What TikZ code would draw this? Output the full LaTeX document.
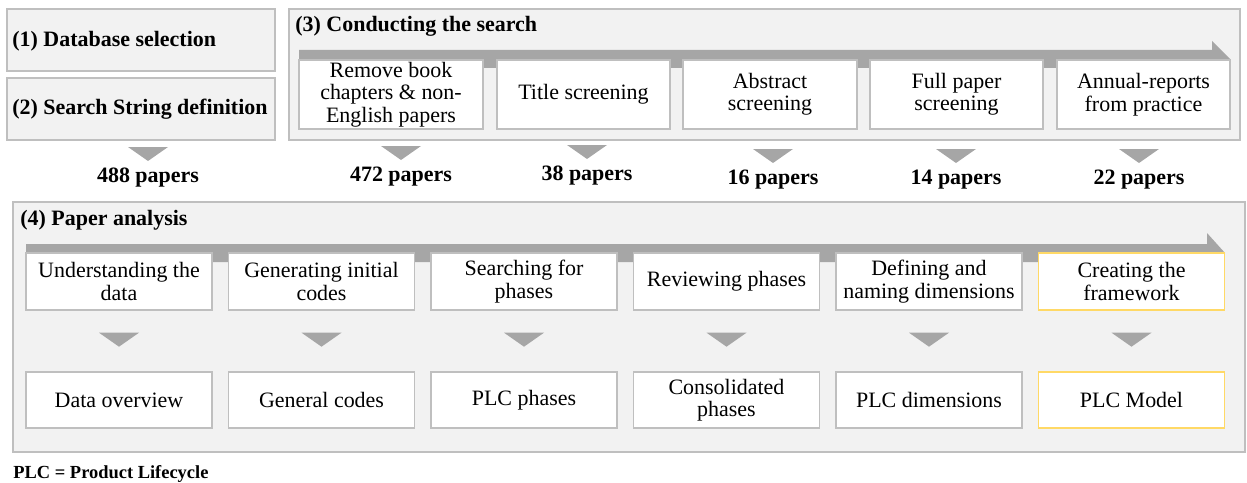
\documentclass[tikz,border=0pt]{standalone}
\usepackage{fontspec}
\setmainfont{Liberation Serif}
\usepackage{tikz}
\usetikzlibrary{positioning}

\definecolor{panelfill}{HTML}{F2F2F2}
\definecolor{panelline}{HTML}{BFBFBF}
\definecolor{arrowgray}{HTML}{A6A6A6}
\definecolor{goldline}{HTML}{FFD966}

\tikzset{
  panel/.style={draw=panelline, fill=panelfill, line width=0.8pt, inner sep=0pt},
  stepbox/.style={draw=panelline, fill=white, line width=0.8pt, align=center, inner sep=1pt,
    font=\fontsize{12.5}{12.8}\selectfont},
  goldbox/.style={stepbox, draw=goldline},
  count/.style={inner sep=0pt, font=\bfseries\fontsize{12.5}{13}\selectfont},
  title/.style={anchor=base west, inner sep=0pt, font=\bfseries\fontsize{12.5}{13}\selectfont},
}

\begin{document}
\begin{tikzpicture}[x=0.02cm, y=-0.02cm]
\useasboundingbox (0,0) rectangle (1247,483);
%% panels
\node[panel, minimum width=5.36cm, minimum height=1.24cm] (dbsel) at (141,40) {};
\node[panel, minimum width=5.36cm, minimum height=1.24cm] (sstring) at (141,109) {};
\node[panel, minimum width=19.02cm, minimum height=2.62cm] (search) at (764.5,74.5) {};
\node[panel, minimum width=24.64cm, minimum height=5cm] (analysis) at (629,327) {};
\node[title] (t1) at (12,47) {(1) Database selection};
\node[title] (t2) at (12,114) {(2) Search String definition};
\node[title] (t3) at (295,32) {(3) Conducting the search};
\node[title] (t4) at (20,225) {(4) Paper analysis};
%% process arrows
\fill[arrowgray] (299,50) -- (1212,50) -- (1212,41) -- (1230,59) -- (1212,77) -- (1212,68) -- (299,68) -- cycle;
\fill[arrowgray] (26,244) -- (1207,244) -- (1207,233) -- (1225,253) -- (1207,273) -- (1207,262) -- (26,262) -- cycle;
%% search steps
\foreach \cx/\w/\n/\txt in {391/3.68/s1/{Remove book\\chapters \& non-\\English papers},
    583.5/3.46/s2/{Title screening}, 770/3.48/s3/{Abstract\\screening},
    956.5/3.46/s4/{Full paper\\screening}, 1143.5/3.46/s5/{Annual-reports\\from practice}}
  \node[stepbox, minimum width=\w cm, minimum height=1.38cm] (\n) at (\cx,94.5) {\txt};
%% paper counts
\node[count] (c0) at (148,178) {488 papers};
\node[count] (c1) at (401,177) {472 papers};
\node[count] (c2) at (587,176) {38 papers};
\node[count] (c3) at (773,180) {16 papers};
\node[count] (c4) at (956,180) {14 papers};
\node[count] (c5) at (1139,180) {22 papers};
\foreach \c in {c0,c1,c2,c3,c4,c5}
  \fill[arrowgray] (\c.center) ++(-20,-31) -- ++(40,0) -- ++(-20,14) -- cycle;
%% analysis steps and results
\foreach \i/\top/\bot in {0/{Understanding the\\data}/{Data overview},
    1/{Generating initial\\codes}/{General codes}, 2/{Searching for\\phases}/{PLC phases},
    3/{Reviewing phases}/{Consolidated\\phases}, 4/{Defining and\\naming dimensions}/{PLC dimensions}}{
  \node[stepbox, minimum width=3.72cm, minimum height=1.14cm] (a\i) at (119+202.5*\i,281.5) {\top};
  \node[stepbox, minimum width=3.72cm, minimum height=1.12cm] (r\i) at (119+202.5*\i,400) {\bot};
}
\node[goldbox, minimum width=3.72cm, minimum height=1.14cm] (a5) at (1131.5,281.5) {Creating the\\framework};
\node[goldbox, minimum width=3.72cm, minimum height=1.12cm] (r5) at (1131.5,400) {PLC Model};
\foreach \i in {0,...,5}
  \fill[arrowgray] (a\i.south) ++(-20,22) -- ++(40,0) -- ++(-20,14) -- cycle;
\node[anchor=base west, inner sep=0pt, font=\bfseries\fontsize{10.5}{12}\selectfont] (plc) at (13,478) {PLC = Product Lifecycle};
\end{tikzpicture}
\end{document}
